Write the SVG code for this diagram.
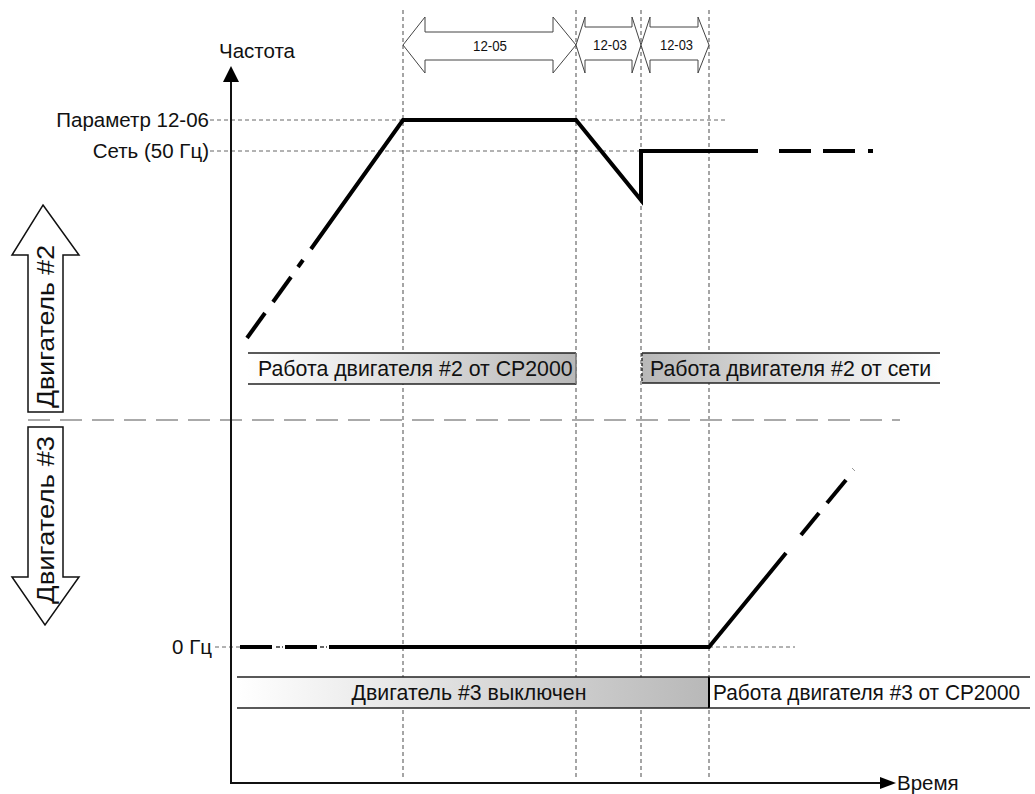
<svg xmlns="http://www.w3.org/2000/svg" width="1035" height="794" viewBox="0 0 1035 794">
<style>
text{font-family:"Liberation Sans",Arial,sans-serif;fill:#111}
.lbl{font-size:20.5px}
.box{font-size:21.3px}
.iv{font-size:15px}
.vd{stroke:#888;stroke-width:1.5;stroke-dasharray:4 3;fill:none}
.hd{stroke:#666;stroke-width:1;stroke-dasharray:4 3;fill:none}
.th{stroke:#000;stroke-width:4;fill:none;stroke-linejoin:miter}
.tn{stroke:#333;stroke-width:1.5;fill:none}
.dbl{fill:#fff;stroke:#444;stroke-width:1}
.big{fill:#fff;stroke:#111;stroke-width:1.5}
.bl{stroke:#222;stroke-width:1.5}
</style>
<defs>
<linearGradient id="gR" x1="0" y1="0" x2="1" y2="0"><stop offset="0" stop-color="#fff"/><stop offset="1" stop-color="#b8b8b8"/></linearGradient>
<linearGradient id="gL" x1="0" y1="0" x2="1" y2="0"><stop offset="0" stop-color="#b8b8b8"/><stop offset="1" stop-color="#fff"/></linearGradient>
</defs>

<g id="grid">
<line class="vd" x1="403" y1="10" x2="403" y2="778"/>
<line class="vd" x1="576" y1="10" x2="576" y2="778"/>
<line class="vd" x1="641" y1="10" x2="641" y2="778"/>
<line class="vd" x1="709" y1="10" x2="709" y2="778"/>
<line class="hd" x1="210" y1="120" x2="728" y2="120"/>
<line class="hd" x1="210" y1="151" x2="641" y2="151"/>
<line class="hd" x1="215" y1="647" x2="240" y2="647"/>
<line class="hd" x1="709" y1="647" x2="795" y2="647"/>
<line x1="28" y1="420" x2="900" y2="420" stroke="#aaa" stroke-width="2" stroke-dasharray="22 10"/>
</g>

<g id="axes">
<line x1="231" y1="80" x2="231" y2="783" stroke="#111" stroke-width="2"/>
<path d="M231,66 L239,82 L223,82 Z" fill="#000"/>
<line x1="230" y1="783" x2="881" y2="783" stroke="#111" stroke-width="2"/>
<path d="M896,783 L880,777 L880,789 Z" fill="#000"/>
<text class="lbl" x="219" y="58">Частота</text>
<text class="lbl" x="897" y="790">Время</text>
<text class="lbl" x="209" y="127" text-anchor="end">Параметр 12-06</text>
<text class="lbl" x="209" y="158" text-anchor="end">Сеть (50 Гц)</text>
<text class="lbl" x="212" y="654" text-anchor="end">0 Гц</text>
</g>

<g id="interval-12-05">
<path class="dbl" d="M403,45 L425,17 L425,32 L553,32 L553,17 L576,45 L553,73 L553,60 L425,60 L425,73 Z"/>
<text class="iv" x="473" y="51" textLength="34" lengthAdjust="spacingAndGlyphs">12-05</text>
</g>
<g id="interval-12-03a">
<path class="dbl" d="M576,45 L585,17 L585,27 L632,27 L632,17 L641,45 L632,73 L632,60 L585,60 L585,73 Z"/>
<text class="iv" x="593" y="50" textLength="34" lengthAdjust="spacingAndGlyphs">12-03</text>
</g>
<g id="interval-12-03b">
<path class="dbl" d="M641,45 L650,17 L650,27 L698,27 L698,17 L709,45 L698,73 L698,60 L650,60 L650,73 Z"/>
<text class="iv" x="660" y="50" textLength="33" lengthAdjust="spacingAndGlyphs">12-03</text>
</g>

<g id="motor2-arrow">
<path class="big" d="M43,205 L79,255 L63,255 L63,412 L28,412 L28,255 L12,255 Z"/>
<text transform="translate(54,408) rotate(-90)" font-size="24" textLength="163" lengthAdjust="spacingAndGlyphs">Двигатель #2</text>
</g>
<g id="motor3-arrow">
<path class="big" d="M28,427 L63,427 L63,577 L79,577 L45,625 L12,577 L28,577 Z"/>
<text transform="translate(54,604) rotate(-90)" font-size="24" textLength="168" lengthAdjust="spacingAndGlyphs">Двигатель #3</text>
</g>

<g id="box-m2-cp">
<rect x="248" y="353" width="328" height="31" fill="url(#gR)"/>
<line class="bl" x1="248" y1="353" x2="576" y2="353"/>
<line class="bl" x1="248" y1="384" x2="576" y2="384"/>
<line x1="576" y1="353" x2="576" y2="384" stroke="#777" stroke-width="1.5"/>
<text class="box" x="258" y="376">Работа двигателя #2 от CP2000</text>
</g>
<g id="box-m2-grid">
<rect x="642" y="353" width="298" height="30" fill="url(#gL)"/>
<line class="bl" x1="642" y1="353" x2="940" y2="353"/>
<line class="bl" x1="642" y1="383" x2="940" y2="383"/>
<line x1="642" y1="353" x2="642" y2="383" stroke="#333" stroke-width="1.5" stroke-dasharray="3 2"/>
<text class="box" x="650" y="376">Работа двигателя #2 от сети</text>
</g>
<g id="box-m3-off">
<rect x="237" y="677" width="472" height="31" fill="url(#gR)"/>
<line class="bl" x1="237" y1="677" x2="709" y2="677"/>
<line class="bl" x1="237" y1="708" x2="709" y2="708"/>
<line x1="709" y1="677" x2="709" y2="708" stroke="#000" stroke-width="2"/>
<text class="box" x="469" y="700" text-anchor="middle">Двигатель #3 выключен</text>
</g>
<g id="box-m3-cp">
<line class="bl" x1="709" y1="677" x2="1030" y2="677"/>
<line class="bl" x1="709" y1="708" x2="1030" y2="708"/>
<text class="box" x="713" y="700" textLength="307" lengthAdjust="spacingAndGlyphs">Работа двигателя #3 от CP2000</text>
</g>

<g id="connectors">
<line class="th" x1="247" y1="338" x2="265" y2="313"/>
<line class="th" x1="273" y1="302" x2="291" y2="277"/>
<line class="th" x1="298" y1="267" x2="303" y2="260"/>
<polyline class="th" points="311,249 403,120 576,120 641,200 641,151 758,151"/>
<line class="th" x1="779" y1="151" x2="811" y2="151"/>
<line class="th" x1="823" y1="151" x2="855" y2="151"/>
<line class="th" x1="868" y1="151" x2="873" y2="151"/>
<line class="th" x1="240" y1="647" x2="272" y2="647"/>
<line class="tn" x1="276" y1="647" x2="280" y2="647"/>
<line class="tn" x1="282" y1="647" x2="283" y2="647"/>
<line class="th" x1="285" y1="647" x2="317" y2="647"/>
<line class="tn" x1="320" y1="647" x2="324" y2="647"/>
<line class="tn" x1="326" y1="647" x2="327" y2="647"/>
<polyline class="th" points="329,647 709,647 786,553"/>
<line class="th" x1="801" y1="535" x2="819" y2="513"/>
<line class="th" x1="827" y1="503" x2="846" y2="480"/>
<line x1="852" y1="468" x2="855" y2="471" stroke="#999" stroke-width="1"/>
</g>
</svg>
